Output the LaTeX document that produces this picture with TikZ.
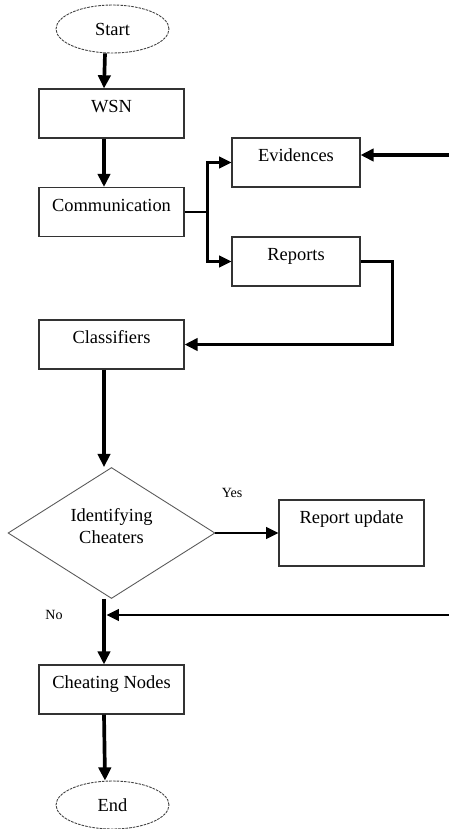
\documentclass[tikz,border=0pt]{standalone}
\usepackage{fontspec}
\setmainfont{Liberation Serif}
\usetikzlibrary{shapes.geometric,arrows.meta}

\begin{document}
\begin{tikzpicture}[%
    x=0.02cm, y=-0.02cm,
    font=\fontsize{10.5}{12.6}\selectfont,
    block/.style={
      rectangle,
      draw=black!80,
      line width=0.6pt,
      minimum width=2.9cm,
      minimum height=0.98cm
    },
    boxtext/.style={
      anchor=base,
      yshift=-0.49cm
    },
    terminal/.style={
      ellipse,
      draw=black!75,
      line width=0.5pt,
      dash pattern=on 1.5pt off 0.6pt,
      minimum width=2.26cm,
      minimum height=0.96cm
    },
    decision/.style={
      diamond,
      draw=black!65,
      line width=0.5pt,
      minimum width=4.14cm,
      minimum height=2.62cm,
      inner sep=0pt
    },
    line/.style={
      draw,
      line width=2.1pt,
      -{Triangle[length=7.5pt,width=7pt]}
    },
    thinline/.style={
      draw,
      line width=1.5pt,
      -{Triangle[length=7pt,width=6.5pt]}
    },
    small/.style={
      font=\fontsize{8}{9.6}\selectfont
    }
  ]
    \useasboundingbox (0,0) rectangle (449,829);

    % main column
    \node[terminal] (start) at (112.5,29) {Start};
    \node[block, label={[boxtext]north:WSN}] (wsn) at (111.5,113.5) {};
    \node[block, label={[boxtext]north:Communication}] (comm) at (111.5,212) {};
    \node[block, label={[boxtext]north:Classifiers}] (cls) at (111.5,344.5) {};
    \node[decision, label={[align=center,yshift=0.13cm]center:Identifying\\Cheaters}] (ident) at (111.5,533) {};
    \node[block, label={[boxtext]north:Cheating Nodes}] (cheat) at (111.5,689.5) {};
    \node[terminal] (end) at (112.5,805) {End};

    % side boxes
    \node[block, minimum width=2.56cm, label={[boxtext]north:Evidences}] (evid) at (296,162.5) {};
    \node[block, minimum width=2.56cm, label={[boxtext]north:Reports}] (rep) at (296,261.5) {};
    \node[block, minimum height=1.32cm, label={[boxtext]north:Report update}] (upd) at (351.5,533) {};

    \node[small] (yes) at (232,493) {Yes};
    \node[small] (no) at (54,615) {No};

    \coordinate (evin) at (449,155);
    \coordinate (noin) at (449,615);
    \coordinate (nojoin) at ([xshift=-0.15cm]ident.south);

    % connectors
    \draw[line] ([xshift=-0.15cm]start.south) -- ([xshift=-0.15cm]wsn.north);
    \draw[line] ([xshift=-0.15cm]wsn.south) -- ([xshift=-0.15cm]comm.north);
    \draw[thinline] (comm.east) -- ++(23,0) coordinate (fork) |- (evid.west);
    \draw[thinline] (fork) |- (rep.west);
    \draw[line] (evin) -- (evin -| evid.east);
    \draw[line] (rep.east) -- ++(32,0) |- (cls.east);
    \draw[line] ([xshift=-0.15cm]cls.south) -- ([xshift=-0.15cm]ident.north);
    \draw[thinline] (ident.east) -- (upd.west);
    \draw[line] (nojoin) -- ([xshift=-0.15cm]cheat.north);
    \draw[thinline] (noin) -- ([xshift=0.05cm]noin -| nojoin);
    \draw[line] ([xshift=-0.15cm]cheat.south) -- ([xshift=-0.15cm]end.north);

  \end{tikzpicture}
\end{document}
